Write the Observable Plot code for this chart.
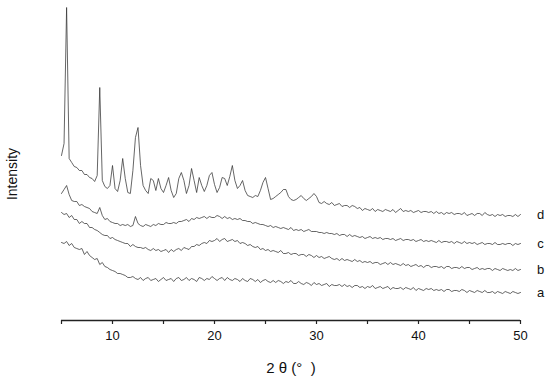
<!DOCTYPE html>
<html>
<head>
<meta charset="utf-8">
<script src="https://cdn.jsdelivr.net/npm/d3@7"></script>
<script src="https://cdn.jsdelivr.net/npm/@observablehq/plot@0.6"></script>
<style>
  html, body { margin: 0; padding: 0; background: #fff; }
  svg { font-family: "Liberation Sans", Arial, sans-serif; }
</style>
</head>
<body>
<div id="chart"></div>
<script>
// 2θ scan grid: 5° to 50°, step 0.25°
const twoTheta = d3.range(181).map(i => 5 + i * 0.25);

const seriesNames = ["a", "b", "c", "d"];
const xTicks = [5, 10, 15, 20, 25, 30, 35, 40, 45, 50];
const xTickLabels = ["", "10", "", "20", "", "30", "", "40", "", "50"];

// intensities (arbitrary units, offset traces)
const intensityA = [
  78,77,79,75, 77,73,72,71, 72,66,69,65, 63,61,62,56, 58,54,53,51,
  50,49,47,47, 46,45,43,43, 44,42,41,43, 40,42,43,40, 41,42,39,41,
  43,40,41,42, 39,42,43,40, 41,43,40,42, 41,39,43,42, 40,42,41,44,
  42,40,42,43, 40,43,41,40, 42,41,39,42, 40,39,42,41, 39,41,38,40,
  41,39,38,40, 38,40,39,37, 39,38,40,37, 37,39,37,36, 38,37,35,38,
  36,37,35,36, 37,34,36,35, 35,36,34,36, 34,35,33,35, 35,33,34,32,
  34,33,35,32, 33,34,32,33, 34,31,33,32, 32,33,31,33, 32,31,33,30,
  32,31,30,32, 31,32,30,31, 30,31,29,31, 31,29,30,30, 29,31,30,28,
  30,29,28,30, 29,28,30,28, 28,29,27,29, 28,27,29,28, 27,29,28,27,
  28
];
const intensityB = [
  108,106,107,103, 105,101,101,97, 99,97,97,93, 93,91,90,88, 86,85,85,82,
  83,81,80,79, 78,77,77,74, 76,74,73,73, 72,73,71,70, 72,70,71,69,
  70,71,68,71, 69,71,72,70, 73,72,71,74, 74,76,75,77, 78,77,80,79,
  80,82,79,81, 82,79,80,81, 79,80,77,78, 77,75,76,74, 73,74,71,72,
  70,71,69,70, 69,68,70,67, 67,68,66,67, 67,65,66,66, 64,66,65,63,
  65,63,64,62, 63,64,62,61, 62,60,62,60, 61,60,59,61, 59,60,58,59,
  58,59,57,58, 58,56,57,58, 56,58,56,57, 56,55,57,55, 56,54,55,56,
  54,55,53,55, 55,53,54,54, 53,54,52,54, 54,52,53,53, 52,54,52,53,
  53,51,52,53, 51,52,51,52, 52,50,52,51, 50,52,51,50, 51,50,52,50,
  51
];
const intensityC = [
  127,131,135,126, 120,119,119,115, 116,114,113,112, 109,108,107,113, 105,101,102,99,
  98,97,97,95, 96,95,96,94, 95,104,97,95, 94,96,95,94, 96,95,97,96,
  96,98,97,97, 98,97,99,99, 100,101,99,102, 101,103,102,103, 104,102,104,103,
  103,105,104,102, 104,102,103,101, 102,101,102,100, 100,99,99,97, 98,97,96,96,
  95,94,95,93, 94,93,92,93, 92,91,93,90, 91,90,91,89, 90,91,89,89,
  89,88,88,87, 88,87,87,86, 87,85,86,86, 84,86,84,85, 84,83,84,82,
  83,84,82,83, 82,83,81,82, 82,81,82,80, 81,82,80,81, 81,80,81,79,
  80,81,79,80, 79,80,79,78, 80,78,79,79, 78,79,77,79, 78,77,79,77,
  78,77,78,76, 77,78,76,77, 77,76,78,76, 76,77,76,77, 77,75,77,76,
  77
];
const intensityD = [
  165,177,313,162, 158,154,153,150, 150,146,146,143, 142,139,145,233, 140,134,132,135,
  155,132,129,140, 162,142,128,127, 150,183,193,155, 135,130,127,142, 140,130,142,132,
  128,135,143,130, 123,127,142,148, 140,127,135,152, 140,128,143,135, 129,135,145,148,
  136,128,133,143, 142,135,144,155, 140,132,135,140, 130,125,124,123, 125,124,130,138,
  143,132,121,122, 124,126,128,131, 131,124,121,120, 121,123,125,122, 120,122,124,127,
  124,118,117,119, 117,116,118,115, 116,117,114,115, 115,113,115,114, 112,113,110,112,
  111,110,112,109, 111,110,109,111, 110,109,111,108, 110,112,109,110, 109,110,108,109,
  110,108,109,109, 108,109,107,109, 107,108,106,108, 107,108,106,107, 107,106,108,105,
  106,107,105,107, 107,105,108,106, 105,106,104,106, 105,106,104,105, 105,104,106,104,
  106
];

const allSeries = [intensityA, intensityB, intensityC, intensityD];
const rows = [];
allSeries.forEach((vals, k) => {
  vals.forEach((v, i) => rows.push({ series: seriesNames[k], x: twoTheta[i], y: v }));
});
const lastPoints = seriesNames.map(s => rows.filter(r => r.series === s).at(-1));

const chart = Plot.plot({
  width: 550,
  height: 380,
  marginTop: 5,
  marginBottom: 60,
  marginLeft: 61,
  marginRight: 30,
  style: { fontFamily: '"Liberation Sans", Arial, sans-serif', fontSize: "13px", color: "#111", background: "#fff" },
  x: { domain: [5, 50] },
  y: { domain: [0, 315], axis: null },
  marks: [
    Plot.ruleY([0], { stroke: "#222", strokeWidth: 1.3 }),
    Plot.axisX({
      ticks: xTicks,
      tickFormat: d => xTickLabels[xTicks.indexOf(d)],
      tickSize: 4,
      tickPadding: 6,
      stroke: "#222",
      strokeWidth: 1.2,
      fontSize: 13,
      label: null
    }),
    Plot.line(rows, { x: "x", y: "y", z: "series", stroke: "#333", strokeWidth: 0.75 }),
    Plot.text(lastPoints, { x: "x", y: "y", text: "series", dx: 20, fontSize: 13, fill: "#111" }),
    Plot.text(["2 θ (°  )"], { frameAnchor: "bottom", textAnchor: "middle", lineAnchor: "middle", dy: 48, fontSize: 15, fill: "#111" }),
    Plot.text(["Intensity"], { frameAnchor: "left", textAnchor: "middle", lineAnchor: "middle", rotate: -90, dx: -49, dy: 11, fontSize: 14, fill: "#111" })
  ]
});
document.getElementById("chart").appendChild(chart);
</script>
</body>
</html>
